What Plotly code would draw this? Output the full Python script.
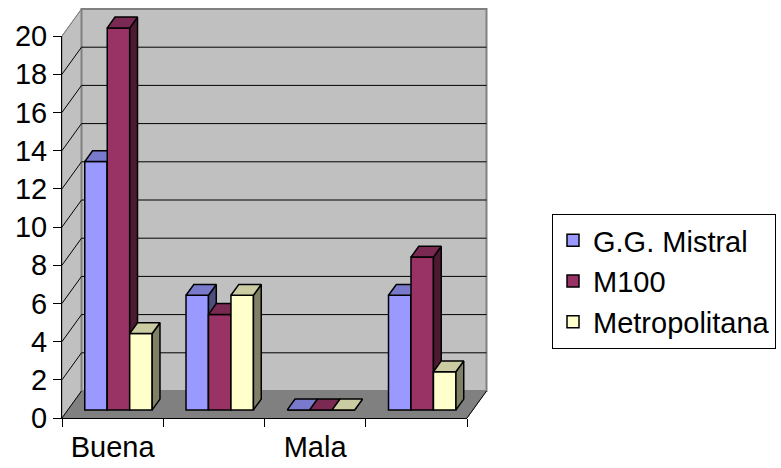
import plotly.graph_objects as go

# ---- data -------------------------------------------------------------
categories = ["Buena", "", "Mala", ""]
series_names = ["G.G. Mistral", "M100", "Metropolitana"]
mistral = [13, 6, 0, 6]
m100 = [20, 5, 0, 8]
metropolitana = [4, 6, 0, 2]
y_ticks = list(range(0, 21, 2))

series_values = [mistral, m100, metropolitana]
front_colors = ["#9999FF", "#993366", "#FFFFCC"]
top_colors = ["#7A7ACC", "#7A2952", "#CCCCA3"]
side_colors = ["#4D4D80", "#4D1A33", "#808066"]

# ---- geometry of the oblique 3D box (pixels) ---------------------------
W, H = 781, 468
X0, X1 = 62, 467          # front edge of the floor
Y0, YTOP = 418, 36        # front axis: value 0 and value 20
DEPTH_PX = (19.5, 27.0)   # shift of the back wall (right, up)
n = len(categories)
px_cat = (X1 - X0) / n
px_unit = (Y0 - YTOP) / 20.0
box_right = X1 + DEPTH_PX[0] + 2
box_top = YTOP - DEPTH_PX[1] - 2

Dx = DEPTH_PX[0] / px_cat
Dy = DEPTH_PX[1] / px_unit
x_range = [-0.5, -0.5 + (box_right - X0) / px_cat]
y_range = [0, (Y0 - box_top) / px_unit]

FRONT, BACK = 0.3, 0.7    # depth slice occupied by the columns
bar_w = 0.222
ox, oy = FRONT * Dx, FRONT * Dy
ddx, ddy = (BACK - FRONT) * Dx, (BACK - FRONT) * Dy

FONT = "Liberation Sans, Arial, sans-serif"

fig = go.Figure()

for k, (name, vals) in enumerate(zip(series_names, series_values)):
    xa = "x" if k == 0 else f"x{k + 1}"
    ya = "y" if k == 0 else f"y{k + 1}"
    centers = [i + ox + (k - 1) * bar_w for i in range(n)]
    fig.add_trace(go.Bar(
        x=centers, y=vals, base=oy, width=bar_w, name=name,
        marker=dict(color=front_colors[k], line=dict(color="black", width=1.5)),
        xaxis=xa, yaxis=ya,
    ))
    sx, sy, tx, ty = [], [], [], []
    for c, v in zip(centers, vals):
        left, right, top = c - bar_w / 2, c + bar_w / 2, oy + v
        sx += [right, right, right + ddx, right + ddx, right, None]
        sy += [oy, top, top + ddy, oy + ddy, oy, None]
        tx += [left, right, right + ddx, left + ddx, left, None]
        ty += [top, top, top + ddy, top + ddy, top, None]
    for px, py, col in ((sx, sy, side_colors[k]), (tx, ty, top_colors[k])):
        fig.add_trace(go.Scatter(
            x=px, y=py, mode="lines", fill="toself", fillcolor=col,
            line=dict(color="black", width=1.5), hoverinfo="skip",
            showlegend=False, xaxis=xa, yaxis=ya,
        ))

# empty trace so the visible front axes get their own subplot
fig.add_trace(go.Scatter(x=[], y=[], xaxis="x4", yaxis="y4", showlegend=False))


def poly(points):
    return "M " + " L ".join(f"{x},{y}" for x, y in points) + " Z"


L, R = -0.5, n - 0.5
shapes = [
    # floor
    dict(type="path", path=poly([(L, 0), (R, 0), (R + Dx, Dy), (L + Dx, Dy)]),
         fillcolor="#808080", line=dict(color="#808080", width=1)),
    # left wall
    dict(type="path", path=poly([(L, 0), (L, 20), (L + Dx, 20 + Dy), (L + Dx, Dy)]),
         fillcolor="#C0C0C0", line=dict(color="#808080", width=1)),
    # back wall
    dict(type="path", path=poly([(L + Dx, Dy), (R + Dx, Dy), (R + Dx, 20 + Dy), (L + Dx, 20 + Dy)]),
         fillcolor="#C0C0C0", line=dict(color="#808080", width=2)),
]
for t in y_ticks:
    if 0 < t < 20:
        shapes.append(dict(type="line", x0=L + Dx, y0=t + Dy, x1=R + Dx, y1=t + Dy,
                           line=dict(color="black", width=1)))
    shapes.append(dict(type="line", x0=L, y0=t, x1=L + Dx, y1=t + Dy,
                       line=dict(color="black" if t < 20 else "#808080", width=1)))
shapes.append(dict(type="line", x0=R, y0=0, x1=R + Dx, y1=Dy,
                   line=dict(color="black", width=1)))
for s in shapes:
    s.update(xref="x", yref="y", layer="below")

hidden = dict(visible=False, showgrid=False, zeroline=False)
main_dom_x = [X0 / W, box_right / W]
main_dom_y = [1 - Y0 / H, 1 - box_top / H]

fig.update_layout(
    width=W, height=H,
    margin=dict(l=0, r=0, t=0, b=0),
    paper_bgcolor="white", plot_bgcolor="rgba(0,0,0,0)",
    barmode="overlay",
    font=dict(family=FONT, color="black", size=29),
    shapes=shapes,
    xaxis=dict(domain=main_dom_x, range=x_range, anchor="y", **hidden),
    yaxis=dict(domain=main_dom_y, range=y_range, anchor="x", **hidden),
    xaxis2=dict(overlaying="x", range=x_range, anchor="y2", **hidden),
    yaxis2=dict(overlaying="y", range=y_range, anchor="x2", **hidden),
    xaxis3=dict(overlaying="x", range=x_range, anchor="y3", **hidden),
    yaxis3=dict(overlaying="y", range=y_range, anchor="x3", **hidden),
    xaxis4=dict(
        domain=[X0 / W, X1 / W], range=[-0.5, n - 0.5], anchor="y4",
        tickvals=[i for i, c in enumerate(categories) if c],
        ticktext=[c for c in categories if c],
        ticks="", showline=True, linecolor="black", linewidth=1,
        showgrid=False, zeroline=False, automargin=False,
        tickfont=dict(size=29), ticklabelstandoff=3,
        minor=dict(tickvals=[i - 0.5 for i in range(n + 1)], ticks="outside",
                   ticklen=8, tickcolor="black", tickwidth=1, showgrid=False),
    ),
    yaxis4=dict(
        domain=[1 - Y0 / H, 1 - YTOP / H], range=[0, 20], anchor="x4",
        tickvals=y_ticks, ticks="outside", ticklen=8, tickcolor="black",
        showline=True, linecolor="black", linewidth=1,
        showgrid=False, zeroline=False, automargin=False,
        tickfont=dict(size=29),
    ),
    legend=dict(
        x=552 / W, y=1 - 214 / H, xanchor="left", yanchor="top",
        bgcolor="white", bordercolor="black", borderwidth=1,
        font=dict(size=29), traceorder="normal",
    ),
)

fig.write_html("out.html")
